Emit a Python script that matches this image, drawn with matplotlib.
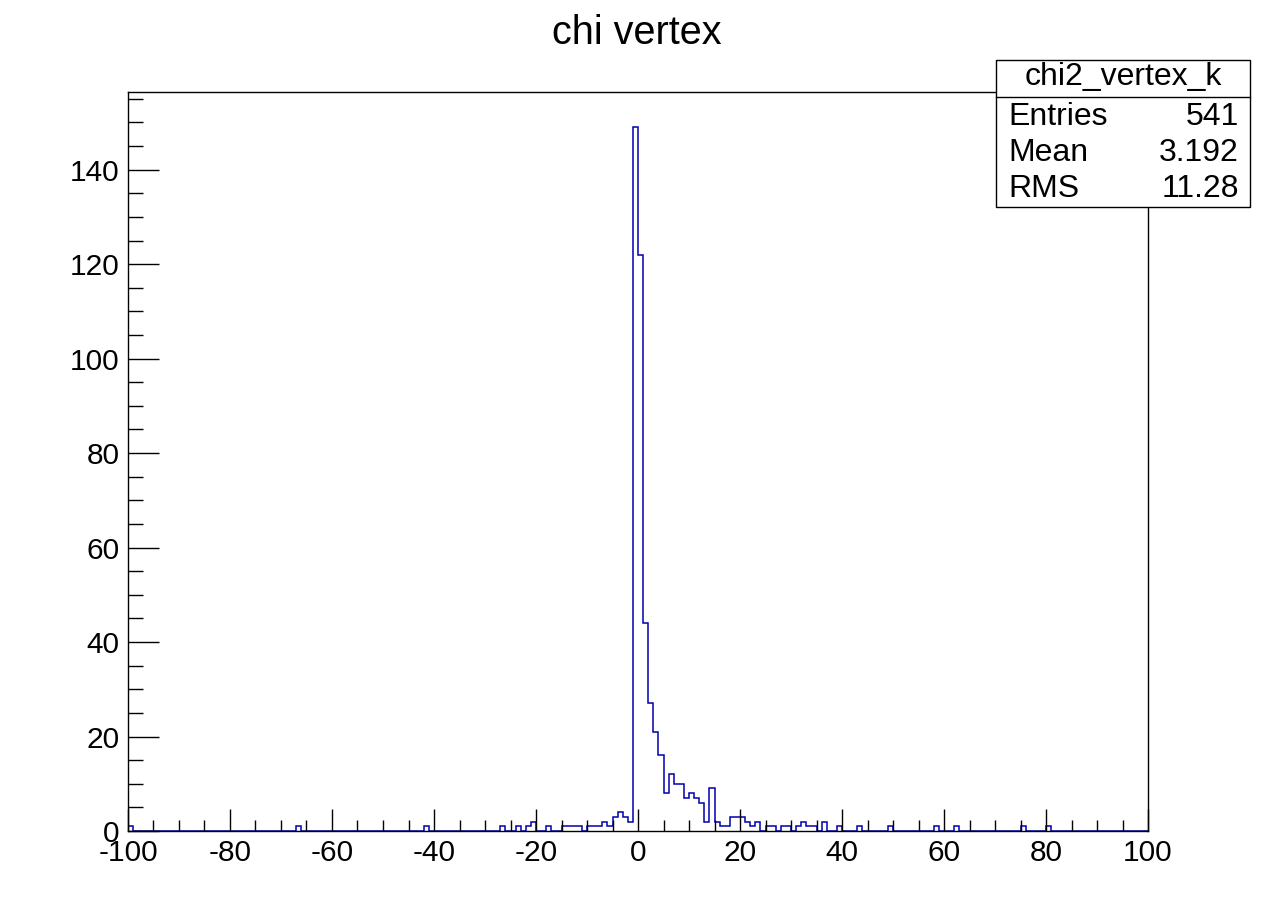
import numpy as np
import matplotlib
matplotlib.use("Agg")
import matplotlib.pyplot as plt
from matplotlib.patches import Rectangle
from matplotlib.lines import Line2D
from matplotlib.ticker import MultipleLocator

plt.rcParams['font.family'] = ['Liberation Sans', 'DejaVu Sans']
plt.rcParams['axes.unicode_minus'] = False

# histogram: 200 bins of width 1 from -100 to 100
x_lo, x_hi, n_bins = -100, 100, 200

# left edge of every non-empty bin and its content
bin_left = [-100, -67, -42, -27, -24, -22, -21, -18,
            -15, -14, -13, -12, -10, -9, -8, -7, -6, -5, -4, -3, -2,
            -1, 0, 1, 2, 3, 4, 5, 6, 7, 8, 9, 10, 11, 12, 13, 14,
            15, 16, 17, 18, 19, 20, 21, 22, 23, 25, 26, 28, 29,
            31, 32, 33, 34, 36, 39, 43, 49, 58, 62, 75, 80]
bin_count = [1, 1, 1, 1, 1, 1, 2, 1,
             1, 1, 1, 1, 1, 1, 1, 2, 1, 3, 4, 3, 2,
             149, 122, 44, 27, 21, 16, 8, 12, 10, 10, 7, 8, 7, 6, 2, 9,
             2, 1, 1, 3, 3, 3, 2, 1, 2, 1, 1, 1, 1,
             1, 2, 1, 1, 2, 1, 1, 1, 1, 1, 1, 1]

title = "chi vertex"
hist_name = "chi2_vertex_k"
stats_names = ["Entries", "Mean", "RMS"]
stats_values = ["541", "3.192", "11.28"]

edges = np.linspace(x_lo, x_hi, n_bins + 1)
counts = np.zeros(n_bins)
for lo, c in zip(bin_left, bin_count):
    counts[int(lo - x_lo)] = c

W, H = 1276, 924
fig = plt.figure(figsize=(W / 100, H / 100), dpi=100)
fig.patch.set_facecolor('white')

def fx(px):
    return px / W

def fy(py):
    return 1 - py / H

ax = fig.add_axes([fx(128), fy(831), fx(1148) - fx(128), fy(92) - fy(831)])
ax.stairs(counts, edges, baseline=0, color='#0000b0', linewidth=1.1)

ax.set_xlim(x_lo, x_hi)
ax.set_ylim(0, counts.max() * 1.05)

ax.xaxis.set_major_locator(MultipleLocator(20))
ax.xaxis.set_minor_locator(MultipleLocator(5))
ax.yaxis.set_major_locator(MultipleLocator(20))
ax.yaxis.set_minor_locator(MultipleLocator(5))

ax.tick_params(axis='x', which='major', direction='in', length=15.5, width=1, labelsize=21.5, pad=5.5)
ax.tick_params(axis='x', which='minor', direction='in', length=8, width=1)
ax.tick_params(axis='y', which='major', direction='in', length=22, width=1, labelsize=21.5, pad=6)
ax.tick_params(axis='y', which='minor', direction='in', length=11, width=1)
ax.tick_params(top=False, right=False, which='both')
for s in ax.spines.values():
    s.set_linewidth(1)
    s.set_color('black')

# title
fig.text(fx(637), fy(33), title, ha='center', va='center', fontsize=28.5)

# stats box
bx0, by0, bx1, by1 = 996, 60, 1250, 207
fig.patches.append(Rectangle((fx(bx0), fy(by1)), fx(bx1) - fx(bx0), fy(by0) - fy(by1),
                             transform=fig.transFigure, facecolor='white',
                             edgecolor='black', linewidth=1, zorder=5))
fig.lines.append(Line2D([fx(bx0), fx(bx1)], [fy(97), fy(97)], transform=fig.transFigure,
                        color='black', linewidth=1, zorder=6))
fig.text(fx((bx0 + bx1) / 2), fy(77), hist_name, ha='center', va='center', fontsize=23, zorder=7)
row_y = [117, 153, 189]
for name, val, ry in zip(stats_names, stats_values, row_y):
    fig.text(fx(1008), fy(ry), name, ha='left', va='center', fontsize=23, zorder=7)
    fig.text(fx(1239), fy(ry), val, ha='right', va='center', fontsize=23, zorder=7)

fig.savefig("out.png", dpi=100)
